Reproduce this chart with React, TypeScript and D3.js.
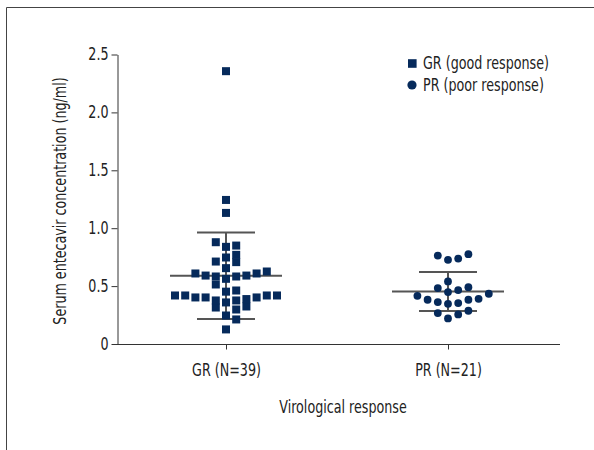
import React, { useEffect, useRef } from "react";
import * as d3 from "d3";

const groups = ["GR (N=39)", "PR (N=21)"];
const grValues = [
  2.356, 1.244, 1.132, 0.879, 0.85, 0.839, 0.77, 0.747, 0.712, 0.707, 0.655, 0.626, 0.609,
  0.609, 0.591, 0.591, 0.583, 0.583, 0.563, 0.514, 0.462, 0.452, 0.419, 0.419, 0.419, 0.419,
  0.402, 0.402, 0.402, 0.388, 0.376, 0.376, 0.359, 0.324, 0.315, 0.298, 0.246, 0.212, 0.126,
];
const prValues = [
  0.776, 0.764, 0.738, 0.727, 0.54, 0.491, 0.483, 0.466, 0.448, 0.434, 0.416, 0.39, 0.382,
  0.382, 0.362, 0.353, 0.347, 0.287, 0.267, 0.255, 0.221,
];
const yTicks = [0, 0.5, 1, 1.5, 2, 2.5];
const legendLabels = ["GR (good response)", "PR (poor response)"];

const navy = "#062a5b";
const font = "'DejaVu Sans Condensed', 'Liberation Sans Narrow', sans-serif";
const squeeze = 0.83; // the original type is narrower than any installed font

// Prism-like scatter: values close together share a row and spread sideways,
// lowest value in the middle, then right, left, right...
function swarm(values: number[], binSize: number) {
  const sorted = [...values].sort((a, b) => a - b);
  const out: { v: number; slot: number }[] = [];
  let i = 0;
  while (i < sorted.length) {
    const start = sorted[i];
    let k = 0;
    while (i < sorted.length && sorted[i] < start + binSize) {
      const slot = k === 0 ? 0 : k % 2 === 1 ? (k + 1) / 2 : -k / 2;
      out.push({ v: sorted[i], slot });
      k++;
      i++;
    }
  }
  return out;
}

function narrow(sel: d3.Selection<any, any, any, any>) {
  sel.each(function () {
    const node = this as SVGTextElement;
    const w = node.getComputedTextLength();
    d3.select(node).attr("textLength", w * squeeze).attr("lengthAdjust", "spacingAndGlyphs");
  });
}

const App = () => {
  const ref = useRef<SVGSVGElement>(null);

  useEffect(() => {
    const svg = d3.select(ref.current);
    svg.selectAll("*").remove();

    const y = d3.scaleLinear().domain([0, 2.5]).range([344, 54.5]);
    const x = d3.scalePoint<string>().domain(groups).range([115, 559]).padding(0.5);
    const step = 10.2;

    // frame
    svg.append("path")
      .attr("d", "M6.5,450V7.5H594")
      .attr("fill", "none")
      .attr("stroke", "#444")
      .attr("stroke-width", 1);

    // y axis
    const gy = svg.append("g")
      .attr("transform", "translate(117.5,0)")
      .call(
        d3.axisLeft(y)
          .tickValues(yTicks)
          .tickSize(6)
          .tickSizeOuter(0)
          .tickPadding(3)
          .tickFormat((d) => (+d === 0 ? "0" : d3.format(".1f")(+d)))
      );
    gy.selectAll("path, line").attr("stroke", "#333");
    gy.selectAll("text").attr("font-family", font).attr("font-size", 17).attr("fill", "#222");
    narrow(gy.selectAll("text"));

    // x axis
    const gx = svg.append("g")
      .attr("transform", "translate(0,344.5)")
      .call(d3.axisBottom(x).tickSize(5).tickSizeOuter(0).tickPadding(14));
    gx.select(".domain").remove();
    gx.append("line").attr("x1", 117).attr("x2", 560).attr("stroke", "#333");
    gx.selectAll("line").attr("stroke", "#333");
    gx.selectAll("text").attr("font-family", font).attr("font-size", 17).attr("fill", "#222");
    narrow(gx.selectAll("text"));

    // titles
    const yTitle = svg.append("text")
      .attr("transform", "translate(66,201) rotate(-90)")
      .attr("text-anchor", "middle")
      .attr("font-family", font)
      .attr("font-size", 17)
      .attr("fill", "#222")
      .text("Serum entecavir concentration (ng/ml)");
    const xTitle = svg.append("text")
      .attr("x", 343)
      .attr("y", 413)
      .attr("text-anchor", "middle")
      .attr("font-family", font)
      .attr("font-size", 17)
      .attr("fill", "#222")
      .text("Virological response");
    narrow(yTitle);
    narrow(xTitle);

    const series = [grValues, prValues];
    series.forEach((vals, gi) => {
      const cx = x(groups[gi])!;
      const m = d3.mean(vals)!;
      const sd = d3.deviation(vals)!;
      const g = svg.append("g").attr("stroke", "#555").attr("stroke-width", 2);
      g.append("line").attr("x1", cx - 56).attr("x2", cx + 56).attr("y1", y(m)).attr("y2", y(m));
      g.append("line").attr("x1", cx).attr("x2", cx).attr("y1", y(m + sd)).attr("y2", y(m - sd));
      [m + sd, m - sd].forEach((v) =>
        g.append("line").attr("x1", cx - 29).attr("x2", cx + 29).attr("y1", y(v)).attr("y2", y(v))
      );

      const pts = swarm(vals, 0.09);
      if (gi === 0) {
        svg.append("g").selectAll("rect").data(pts).enter().append("rect")
          .attr("x", (d) => cx + d.slot * step - 4)
          .attr("y", (d) => y(d.v) - 4)
          .attr("width", 8)
          .attr("height", 8)
          .attr("fill", navy);
      } else {
        svg.append("g").selectAll("circle").data(pts).enter().append("circle")
          .attr("cx", (d) => cx + d.slot * step)
          .attr("cy", (d) => y(d.v))
          .attr("r", 3.9)
          .attr("fill", navy);
      }
    });

    // legend
    const lg = svg.append("g");
    legendLabels.forEach((label, i) => {
      const ly = 63.5 + i * 21.5;
      if (i === 0) {
        lg.append("rect").attr("x", 408).attr("y", ly - 4.3).attr("width", 8.6).attr("height", 8.6).attr("fill", navy);
      } else {
        lg.append("circle").attr("cx", 412).attr("cy", ly).attr("r", 4.6).attr("fill", navy);
      }
      const t = lg.append("text")
        .attr("x", 423)
        .attr("y", ly + 5.8)
        .attr("font-family", font)
        .attr("font-size", 17)
        .attr("fill", "#222")
        .text(label);
      narrow(t);
    });
  }, []);

  return (
    <svg
      ref={ref}
      width={594}
      height={450}
      style={{ position: "absolute", left: 0, top: 0, background: "#fff" }}
    />
  );
};

export default App;
